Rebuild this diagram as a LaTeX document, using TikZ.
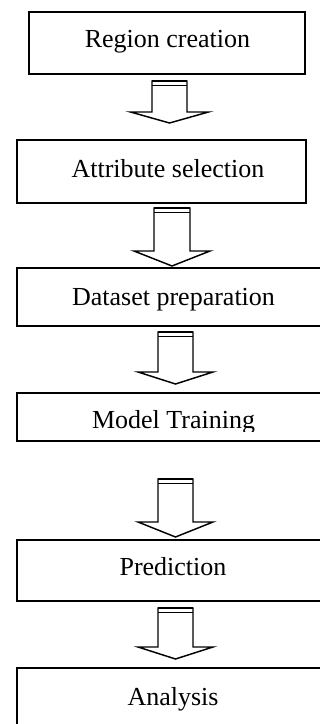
\documentclass[tikz,border=0pt]{standalone}
\usepackage{fontspec}
\setmainfont{Liberation Serif}
\tikzset{
  box/.style={draw=black, line width=1.1pt, fill=white},
  lbl/.style={anchor=base, inner sep=0pt, font=\fontsize{19.5}{22}\selectfont},
  blk/.style={draw=black, line width=1.1pt, fill=white, line join=miter},
}
% \blkarrow{name}{cx}{top}{base}{tip}{shaft half width}{head half width}
\newcommand\blkarrow[7]{%
  \coordinate (#1) at (#2,#3);
  \draw[blk] ([xshift=-#6*0.75pt]#1) -- ++(0,{-(#4-#3)*0.75pt}) -- ++({-(#7-#6)*0.75pt},0)
     -- ([yshift={-(#5-#3)*0.75pt}]#1) -- ([xshift=#7*0.75pt,yshift={-(#4-#3)*0.75pt}]#1)
     -- ([xshift=#6*0.75pt,yshift={-(#4-#3)*0.75pt}]#1) -- ([xshift=#6*0.75pt]#1) -- cycle;
  \draw[line width=1.6pt] ([xshift=-#6*0.75pt]#1) -- ([xshift=#6*0.75pt]#1);
  \draw[line width=0.9pt] ([xshift=-#6*0.75pt,yshift=-3.3pt]#1) -- ([xshift=#6*0.75pt,yshift=-3.3pt]#1);
}
\begin{document}
\begin{tikzpicture}[x=0.75pt,y=-0.75pt]
\useasboundingbox (0,0) rectangle (320,724);
% boxes
\draw[box] (29,12) rectangle (305,74) coordinate (b1);
\draw[box] (17,140) rectangle (306,203) coordinate (b2);
\draw[box] (17,268) rectangle (332,326) coordinate (b3);
\draw[box] (17,393) rectangle (332,441) coordinate (b4);
\draw[box] (17,540) rectangle (332,601) coordinate (b5);
\draw[box] (17,668) rectangle (332,740) coordinate (b6);
% texts
\node[lbl] (t1) at (167.5,48) {Region creation};
\node[lbl] (t2) at (168,177) {Attribute selection};
\node[lbl] (t3) at (173.5,305) {Dataset preparation};
\begin{scope}
\clip (20,396) rectangle (328,431);
\node[lbl] (t4) at (173.5,428) {Model Training};
\end{scope}
\node[lbl] (t5) at (173,575) {Prediction};
\node[lbl] (t6) at (173,705) {Analysis};
% block arrows
\blkarrow{a1}{169.5}{81}{112}{123}{17.5}{39}
\blkarrow{a2}{172}{208}{251}{266}{18}{38}
\blkarrow{a3}{175.5}{332}{372}{384}{17.5}{37.5}
\blkarrow{a4}{175.5}{479}{522}{537}{17.5}{37.5}
\blkarrow{a5}{175.5}{608}{647}{659}{17.5}{37.5}
\end{tikzpicture}
\end{document}
